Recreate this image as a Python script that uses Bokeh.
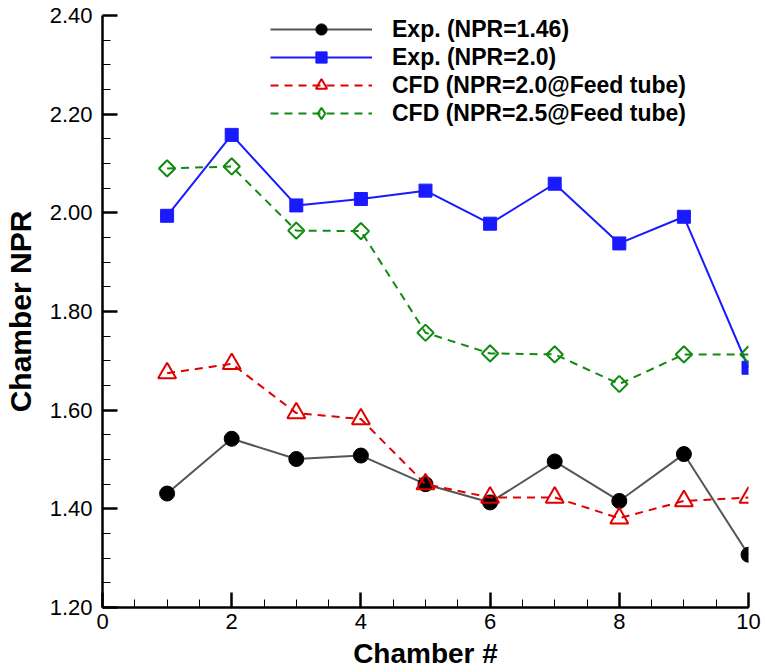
import math
from bokeh.plotting import figure
from bokeh.models import (SingleIntervalTicker, NumeralTickFormatter, Legend, LegendItem)
from bokeh.embed import file_html
from bokeh.resources import INLINE

chamber = [1, 2, 3, 4, 5, 6, 7, 8, 9, 10]
exp_146 = [1.431, 1.542, 1.501, 1.508, 1.450, 1.413, 1.496, 1.416, 1.511, 1.307]
exp_20 = [1.994, 2.158, 2.015, 2.028, 2.045, 1.978, 2.059, 1.938, 1.992, 1.686]
cfd_20 = [1.675, 1.694, 1.594, 1.582, 1.450, 1.423, 1.423, 1.381, 1.416, 1.423]
cfd_25 = [2.090, 2.094, 1.964, 1.963, 1.757, 1.715, 1.713, 1.653, 1.713, 1.713]
labels = ["Exp. (NPR=1.46)", "Exp. (NPR=2.0)", "CFD (NPR=2.0@Feed tube)", "CFD (NPR=2.5@Feed tube)"]

FONT = "Liberation Sans"

p = figure(frame_width=646, frame_height=592, x_range=(0, 10), y_range=(1.2, 2.40001),
           min_border_left=95, min_border_top=15, min_border_right=16, min_border_bottom=57,
           output_backend="svg", toolbar_location=None, background_fill_color="white",
           border_fill_color="white")
p.outline_line_color = None
p.xgrid.visible = False
p.ygrid.visible = False

p.xaxis.ticker = SingleIntervalTicker(interval=2, num_minor_ticks=4)
p.yaxis.ticker = SingleIntervalTicker(interval=0.2, num_minor_ticks=4)
p.yaxis.formatter = NumeralTickFormatter(format="0.00")

for ax in (p.xaxis, p.yaxis):
    ax.axis_line_width = 2.5
    ax.axis_line_color = "black"
    ax.major_tick_in = 15
    ax.major_tick_out = 0
    ax.minor_tick_in = 8
    ax.minor_tick_out = 0
    ax.major_tick_line_width = 2.5
    ax.minor_tick_line_width = 1
    ax.major_tick_line_color = "black"
    ax.minor_tick_line_color = "black"
    ax.major_label_text_font = FONT
    ax.major_label_text_font_size = "22px"
    ax.major_label_text_color = "black"
    ax.axis_label_text_font = FONT
    ax.axis_label_text_font_style = "bold"
    ax.axis_label_text_color = "black"

p.xaxis.axis_label = "Chamber #"
p.yaxis.axis_label = "Chamber NPR"
p.xaxis.axis_label_text_font_size = "28px"
p.yaxis.axis_label_text_font_size = "30px"
p.xaxis.major_label_standoff = 6
p.yaxis.major_label_standoff = 10
p.xaxis.axis_label_standoff = 6
p.yaxis.axis_label_standoff = 10

GRAY, BLUE, RED, GREEN = "#555555", "#1a1aff", "#e00000", "#108a10"

l1 = p.line(chamber, exp_146, line_color=GRAY, line_width=2)
m1 = p.scatter(chamber, exp_146, marker="circle", size=15, fill_color="black", line_color="black")

l2 = p.line(chamber, exp_20, line_color=BLUE, line_width=2)
m2 = p.scatter(chamber, exp_20, marker="square", size=13, fill_color=BLUE, line_color=BLUE)

l3 = p.line(chamber, cfd_20, line_color=RED, line_width=2, line_dash="8 6")
m3 = p.scatter(chamber, cfd_20, marker="triangle", size=18, fill_color=None, line_color=RED, line_width=2)

l4 = p.line(chamber, cfd_25, line_color=GREEN, line_width=2, line_dash="8 6")
m4 = p.scatter(chamber, cfd_25, marker="square", size=11.5, angle=math.pi / 4,
               fill_color=None, line_color=GREEN, line_width=2)
# legend swatch for the diamond series (hidden in the plot itself)
m4_key = p.scatter(chamber, cfd_25, marker="diamond", fill_color=None,
                   line_color=GREEN, line_width=2, visible=False)

legend = Legend(items=[
    LegendItem(label=labels[0], renderers=[l1, m1]),
    LegendItem(label=labels[1], renderers=[l2, m2]),
    LegendItem(label=labels[2], renderers=[l3, m3]),
    LegendItem(label=labels[3], renderers=[l4, m4_key]),
], location=(168, 480))
legend.glyph_width = 102
legend.glyph_height = 28
legend.label_height = 28
legend.label_standoff = 20
legend.spacing = 0
legend.padding = 0
legend.margin = 0
legend.border_line_color = None
legend.background_fill_alpha = 0
legend.inactive_fill_alpha = 0
legend.label_text_font = FONT
legend.label_text_font_size = "23px"
legend.label_text_font_style = "bold"
legend.label_text_color = "black"
p.add_layout(legend, "center")

open("out.html", "w").write(file_html(p, INLINE))
